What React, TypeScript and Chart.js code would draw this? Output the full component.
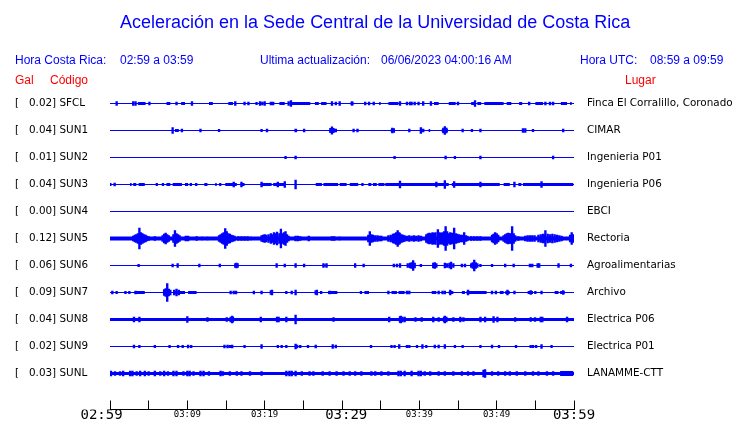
import React, { useEffect, useRef } from 'react';
import { Chart, registerables } from 'chart.js';

Chart.register(...registerables);

// ---------- data ----------
const STATIONS = ['SFCL', 'SUN1', 'SUN2', 'SUN3', 'SUN4', 'SUN5', 'SUN6', 'SUN7', 'SUN8', 'SUN9', 'SUNL'];
const PEAK_GAL = [0.02, 0.04, 0.01, 0.04, 0.0, 0.12, 0.06, 0.09, 0.04, 0.02, 0.03];
const PLACES = [
  'Finca El Corralillo, Coronado',
  'CIMAR',
  'Ingenieria P01',
  'Ingenieria P06',
  'EBCI',
  'Rectoria',
  'Agroalimentarias',
  'Archivo',
  'Electrica P06',
  'Electrica P01',
  'LANAMME-CTT',
];

// minutes after 02:59 (Costa Rica time)
const X_MIN = 0;
const X_MAX = 60;
const X_TICK_VALUES = [0, 5, 10, 15, 20, 25, 30, 35, 40, 45, 50, 55, 60];
const X_TICK_LABELS = ['02:59', '', '03:09', '', '03:19', '', '03:29', '', '03:39', '', '03:49', '', '03:59'];
const X_MAJOR = [0, 30, 60];

// amplitude units per trace spacing
const AMP_PER_ROW = 27;

// continuous activity stretches [start, end] (minutes)
const SFCL_BANDS = [[3.6, 4.6], [7.3, 7.8], [9.2, 9.7], [12.8, 13.3], [15.3, 15.9], [18.8, 19.1], [21.9, 22.6], [23.5, 25.9], [26.5, 27.0], [27.3, 28.0], [31.1, 31.5], [34.8, 35.0], [36.0, 37.3], [41.9, 42.5], [43.8, 44.7], [46.7, 47.1], [47.5, 48.0], [48.4, 50.9], [51.3, 51.9], [52.9, 53.3], [55.0, 56.0], [58.3, 59.1], [59.5, 59.7]];
const SUN1_BANDS = [[8.4, 8.9], [24.0, 24.2], [28.4, 29.1], [36.3, 36.8], [41.2, 41.4], [42.9, 43.7]];
const SUN2_BANDS = [[23.9, 24.1], [43.3, 43.5]];
const SUN3_BANDS = [[0, 0.2], [2.6, 2.8], [3.0, 3.4], [3.7, 4.5], [5.9, 6.2], [6.7, 7.0], [7.3, 7.8], [8.1, 9.3], [9.7, 10.1], [10.3, 10.6], [11.0, 11.3], [12.2, 12.6], [13.6, 13.8], [14.1, 14.4], [14.9, 16.4], [16.9, 17.4], [19.5, 20.9], [21.1, 22.6], [26.6, 27.4], [27.6, 29.5], [29.7, 30.6], [31.0, 32.1], [32.5, 32.8], [33.4, 33.8], [34.0, 34.5], [34.7, 35.5], [35.6, 43.8], [44.2, 50.4], [50.9, 51.7], [52.8, 53.2], [53.4, 59.9]];
const SUN4_BANDS: number[][] = [];
const SUN5_BANDS: number[][] = [];
const SUN6_BANDS = [[27.5, 28.1], [31.6, 31.8], [55.2, 55.6], [57.9, 58.1]];
const SUN7_BANDS = [[3.2, 4.5], [8.2, 9.7], [10.1, 11.2], [28.2, 29.4], [32.3, 32.6], [32.9, 33.5], [36.4, 37.1], [37.3, 38.1], [41.6, 42.2], [43.8, 44.4], [45.5, 45.9], [46.1, 48.7], [50.4, 50.9], [51.1, 51.7], [54.0, 54.7], [57.5, 58.0], [58.2, 58.8]];
const SUN8_BANDS: number[][] = [];
const SUN9_BANDS = [[10.0, 10.2], [19.5, 19.7], [26.5, 26.7], [43.2, 43.4], [49.3, 49.5]];
const SUNL_BANDS = [[58.2, 59.9]];

// spikes [minute, half amplitude]
const SFCL_SPIKES = [[0.86, 2], [3.0, 1.8], [3.3, 1.8], [5.1, 1.5], [8.6, 1.5], [10.6, 2], [16.2, 1.8], [17.4, 1.5], [17.9, 1.5], [19.4, 1.8], [19.7, 1.5], [20.0, 1.8], [20.8, 1.5], [21.1, 1.5], [23.1, 2], [23.4, 2.8], [28.7, 1.8], [29.2, 1.5], [29.7, 1.8], [31.3, 2], [33.0, 1.5], [33.5, 1.5], [34.1, 1.5], [37.5, 2], [38.4, 1.5], [38.8, 1.5], [39.0, 1.5], [39.4, 1.5], [39.9, 1.5], [40.5, 1.8], [41.5, 2], [45.0, 1.5], [47.2, 2.8], [54.2, 1.5], [56.3, 1.5], [56.9, 1.5], [57.3, 1.5]];
const SUN1_SPIKES = [[8.1, 2.8], [9.3, 1.5], [11.7, 1.5], [14.1, 1.2], [19.6, 1.2], [20.3, 1.5], [24.0, 1.5], [25.1, 1.5], [28.5, 2.2], [28.7, 3.7], [28.9, 2.2], [29.2, 1.5], [31.5, 1.5], [32.0, 1.5], [36.5, 2.5], [36.7, 2], [38.7, 1.5], [40.2, 2.8], [40.5, 1.5], [43.1, 2.5], [43.3, 4], [43.5, 2.5], [45.6, 1.5], [46.8, 1.2], [47.9, 1.5], [53.4, 1.8], [53.7, 1.8], [54.7, 1.2], [58.6, 1.5]];
const SUN2_SPIKES = [[22.7, 1.2], [24.0, 1.5], [36.8, 1.2], [43.4, 1.5], [44.6, 1.2], [47.9, 1.5], [57.3, 1.5]];
const SUN3_SPIKES = [[0.6, 1.5], [16.0, 2.5], [17.0, 2.5], [19.6, 2.5], [21.7, 2.5], [22.6, 3], [24.0, 4.5], [37.5, 3.5], [42.2, 2.5], [43.3, 4], [44.5, 3], [47.9, 2.5], [52.3, 2.5], [55.8, 3]];
const SUN4_SPIKES: number[][] = [];
const SUN5_SPIKES = [
  [3.0, 2.5], [3.2, 3.5], [3.4, 4], [3.6, 5], [3.8, 10.5], [4.0, 6], [4.2, 5], [4.4, 4], [4.6, 3.5], [4.8, 2.5], [5.0, 2], [5.8, 2],
  [6.8, 3], [7.0, 4.5], [7.2, 5.5], [7.4, 4], [7.6, 3],
  [8.2, 4], [8.4, 8], [8.6, 5], [8.8, 4], [9.0, 3], [9.8, 2.5], [10.1, 2.5], [11.2, 1.8], [11.9, 1.5], [12.6, 1.5],
  [14.1, 3], [14.3, 4], [14.5, 5], [14.7, 6], [14.9, 10], [15.1, 7], [15.3, 5], [15.5, 4.5], [15.7, 3.5], [15.9, 3], [16.1, 2.5],
  [16.6, 2], [17.0, 2], [17.4, 1.8], [17.8, 1.8], [18.2, 1.5],
  [19.6, 3], [19.8, 3.5], [20.0, 4], [20.2, 3.5], [20.5, 4], [20.8, 5], [21.0, 4], [21.2, 6], [21.4, 5], [21.6, 6.5], [21.9, 5], [22.1, 9.5], [22.3, 5], [22.5, 6], [22.7, 7], [22.9, 4], [23.1, 2.5],
  [24.0, 2.5], [24.3, 2.5], [24.6, 2], [25.7, 2.5], [28.7, 2], [29.0, 2], [29.7, 1.5],
  [33.4, 3.5], [33.6, 7], [33.8, 4], [34.0, 3.5], [34.3, 3], [34.6, 3], [34.9, 2.5], [35.1, 2.5],
  [36.0, 3], [36.3, 3.5], [36.6, 4.5], [36.8, 5], [37.0, 6], [37.2, 8], [37.4, 6], [37.5, 5], [37.7, 4], [37.9, 3.5], [38.1, 3],
  [38.4, 2.5], [38.7, 3], [39.0, 2.5], [39.3, 3], [39.6, 2.5], [39.9, 3], [40.2, 2.5],
  [40.9, 4], [41.1, 5], [41.3, 5.5], [41.5, 5], [41.7, 6], [41.9, 5.5], [42.1, 6], [42.4, 9], [42.6, 6], [42.8, 5.5], [43.0, 6], [43.2, 7], [43.4, 12], [43.6, 7], [43.8, 5], [44.0, 6], [44.2, 5.5], [44.4, 5], [44.5, 10.5], [44.7, 5], [44.9, 4.5], [45.1, 4], [45.3, 3.5], [45.5, 3.5], [45.8, 6], [46.0, 3], [46.2, 2.5],
  [46.7, 2], [47.1, 2], [47.5, 2], [47.9, 2],
  [49.4, 3.5], [49.6, 4.5], [49.8, 6], [50.0, 5], [50.2, 3.5],
  [50.9, 3], [51.1, 4], [51.3, 5], [51.5, 5.5], [51.7, 5], [51.9, 5], [52.0, 12], [52.2, 5], [52.4, 3], [52.8, 2],
  [53.7, 2.5], [54.0, 3], [54.3, 3], [54.6, 3], [54.9, 3],
  [55.4, 3.5], [55.7, 4], [56.0, 4.5], [56.2, 4], [56.3, 8], [56.6, 4.5], [56.9, 4], [57.2, 4.5], [57.5, 4], [57.8, 3.5], [58.1, 3], [58.4, 2.5],
  [59.5, 3.5], [59.7, 6], [59.9, 4],
];
const SUN6_SPIKES = [[3.7, 1.2], [8.1, 1.5], [8.75, 2], [11.55, 1.5], [14.2, 1.5], [16.2, 2], [16.35, 2.5], [16.5, 2], [21.55, 1.8], [22.6, 1.5], [24.0, 2], [25.1, 1.5], [27.6, 1.8], [28.0, 1.8], [31.7, 2], [32.8, 1.5], [36.7, 1.5], [37.1, 1.5], [37.5, 1.8], [38.5, 1.8], [38.8, 2.5], [39.0, 3], [39.2, 5], [39.4, 2.5], [40.2, 1.2], [41.8, 2.5], [42.0, 3], [42.2, 2], [43.3, 2.5], [43.6, 2], [43.9, 2.5], [44.1, 3.5], [44.4, 2], [45.5, 1.5], [45.9, 1.5], [46.7, 2], [46.9, 3], [47.1, 5.5], [47.3, 3], [47.5, 2], [47.9, 1.2], [49.4, 1.2], [51.1, 1.5], [52.2, 1.5], [54.3, 1.5], [54.6, 1.5], [55.3, 2], [55.5, 2], [58.0, 2], [59.6, 1.5]];
const SUN7_SPIKES = [[0.3, 1.5], [0.86, 1.2], [2.0, 1.2], [2.5, 1.2], [3.3, 1.5], [7.0, 3], [7.2, 4], [7.4, 9], [7.6, 3.5], [7.8, 2.5], [8.3, 2.5], [8.6, 3.5], [8.9, 2.5], [15.6, 1.5], [16.0, 1.5], [16.3, 1.5], [18.6, 1.5], [19.6, 1.5], [20.8, 2], [20.95, 2.5], [22.8, 1.2], [23.5, 1.5], [24.0, 2.5], [26.6, 2], [26.75, 2.5], [27.3, 1.2], [28.4, 1.5], [36.0, 1.5], [38.4, 1.5], [38.7, 1.5], [42.5, 1.5], [43.0, 1.5], [43.3, 1.5], [44.0, 2.5], [46.3, 2.5], [49.4, 1.5], [49.9, 1.5], [51.4, 2.5], [52.3, 1.5], [54.4, 2], [55.0, 1.2], [55.8, 1.5], [58.6, 2]];
const SUN8_SPIKES = [[3.1, 2.5], [3.8, 2.5], [10.0, 3], [12.6, 1.8], [15.1, 2], [15.6, 2.5], [15.8, 3.5], [15.9, 2.5], [19.5, 2.5], [21.6, 2.5], [21.8, 2.5], [22.8, 2.5], [24.0, 4.5], [28.9, 2], [36.1, 2.5], [37.5, 2.8], [37.6, 3.5], [37.8, 2.5], [38.1, 2.5], [39.5, 2], [40.3, 1.8], [41.8, 2.5], [42.5, 2], [43.2, 2.5], [43.3, 3.5], [43.5, 2.5], [44.4, 2], [45.3, 2.5], [45.7, 2], [47.9, 2.5], [48.5, 2.5], [49.6, 3], [50.1, 2.5], [52.4, 1.8], [54.4, 1.8], [54.96, 1.8], [55.7, 2.5], [55.9, 2.5], [59.1, 2.5]];
const SUN9_SPIKES = [[3.1, 1.5], [3.8, 1.2], [5.8, 1.2], [7.7, 1.2], [8.8, 1.2], [9.4, 1.2], [10.1, 1.5], [10.5, 1.2], [14.8, 1.5], [15.2, 1.5], [15.5, 1.2], [15.8, 1.5], [17.4, 1.2], [19.6, 1.8], [21.7, 1.2], [22.2, 1.2], [22.8, 1.2], [24.0, 2.5], [24.2, 1.5], [24.6, 1.2], [25.6, 1.2], [26.6, 1.5], [28.8, 1.8], [29.2, 1.5], [33.75, 1.2], [36.4, 1.2], [36.8, 1.2], [37.4, 1.8], [38.4, 1.2], [38.7, 1.2], [39.7, 1.2], [40.4, 1.8], [40.9, 1.2], [42.0, 1.5], [42.5, 1.5], [43.3, 2], [44.6, 1.2], [45.6, 1.2], [47.9, 1.2], [49.4, 1.5], [50.3, 1.2], [52.5, 1.2], [54.4, 1.2], [54.7, 1.2], [55.1, 1.2], [55.8, 1.8], [57.1, 1.2]];
const SUNL_SPIKES = [[0.13, 2.5], [0.65, 2], [1.3, 2], [1.7, 2.5], [2.6, 2.5], [2.9, 2.5], [3.45, 2], [3.9, 2.5], [4.5, 2.5], [5.0, 2], [5.8, 2.5], [6.5, 2], [7.0, 2.5], [7.5, 2], [8.2, 2.5], [8.6, 2.5], [9.5, 2], [10.0, 2.5], [10.3, 2.5], [10.8, 2], [11.7, 2.5], [12.1, 2.5], [12.8, 2], [14.3, 2.5], [14.6, 2], [15.5, 2], [16.4, 2], [17.0, 2], [18.1, 2], [19.6, 2], [22.8, 2.5], [23.2, 2.5], [23.5, 2.5], [24.0, 2.5], [24.8, 2], [25.8, 2], [26.3, 2], [27.5, 2], [28.4, 2], [29.3, 2], [30.2, 2], [31.0, 2], [31.7, 2], [32.5, 2], [33.8, 2], [34.3, 2], [35.1, 2], [36.0, 2], [37.3, 2.5], [37.6, 2.5], [38.1, 2.5], [39.0, 2.5], [39.9, 2.5], [40.2, 2.5], [40.7, 2], [41.4, 2], [42.5, 2], [43.3, 2], [44.4, 2], [45.5, 2], [46.3, 2], [47.0, 2], [48.3, 3.5], [48.5, 4], [49.4, 2], [50.2, 2], [51.1, 2], [51.7, 2], [52.6, 2], [53.7, 2], [54.7, 2], [55.4, 2], [56.5, 2], [57.3, 2]];

const BANDS = [SFCL_BANDS, SUN1_BANDS, SUN2_BANDS, SUN3_BANDS, SUN4_BANDS, SUN5_BANDS, SUN6_BANDS, SUN7_BANDS, SUN8_BANDS, SUN9_BANDS, SUNL_BANDS];
const SPIKES = [SFCL_SPIKES, SUN1_SPIKES, SUN2_SPIKES, SUN3_SPIKES, SUN4_SPIKES, SUN5_SPIKES, SUN6_SPIKES, SUN7_SPIKES, SUN8_SPIKES, SUN9_SPIKES, SUNL_SPIKES];

// ---------- style ----------
const TRACE = '#0000ff';
const BASE_WIDTHS = [1, 1, 1, 1, 1, 4, 1, 1, 3, 1, 3];
const BAND_WIDTHS = [3, 3, 2, 3, 1, 1, 2, 3, 1, 2, 5];
const BIG_TICK_FONT = { family: 'DejaVu Sans Mono', size: 14, lineHeight: 1.2 };
const SMALL_TICK_FONT = { family: 'DejaVu Sans Mono', size: 9, lineHeight: 1.75 };
const LABEL_FONT = { family: 'DejaVu Sans', size: 10.4 };

const LEFT_LABELS = STATIONS.map((s, i) => `[   ${PEAK_GAL[i].toFixed(2)}] ${s}`);

export default function App() {
  const ref = useRef<HTMLCanvasElement>(null);

  useEffect(() => {
    const canvas = ref.current;
    if (!canvas) return;
    const datasets: any[] = [];
    STATIONS.forEach((_, i) => {
      datasets.push({
        type: 'line',
        data: [{ x: X_MIN, y: i }, { x: X_MAX, y: i }],
        borderColor: TRACE,
        borderWidth: BASE_WIDTHS[i],
        borderCapStyle: 'butt',
        pointRadius: 0,
        tension: 0,
      });
      if (BANDS[i].length) {
        datasets.push({
          type: 'line',
          data: BANDS[i].flatMap(([a, b]) => [{ x: a, y: i }, { x: b, y: i }, { x: b, y: null }]),
          borderColor: TRACE,
          borderWidth: BAND_WIDTHS[i],
          borderCapStyle: 'butt',
          pointRadius: 0,
          spanGaps: false,
          tension: 0,
        });
      }
    });
    datasets.push({
      type: 'bar',
      data: SPIKES.flatMap((list, i) =>
        list.map(([t, a]) => ({ x: t, y: [i - a / AMP_PER_ROW, i + a / AMP_PER_ROW] }))
      ),
      backgroundColor: TRACE,
      borderWidth: 0,
      barThickness: 1.7,
      grouped: false,
    });

    const rowTicks = (s: any) => {
      s.ticks = STATIONS.map((_, i) => ({ value: i }));
    };

    const chart = new Chart(canvas, {
      type: 'line',
      data: { datasets },
      options: {
        animation: false,
        responsive: false,
        events: [],
        layout: { padding: { left: 15, top: 90, right: 0, bottom: 0 } },
        plugins: {
          legend: { display: false },
          tooltip: { enabled: false },
          title: { display: false },
        },
        scales: {
          x: {
            type: 'linear',
            position: 'bottom',
            min: X_MIN,
            max: X_MAX,
            offset: false,
            afterBuildTicks: (s: any) => {
              s.ticks = X_TICK_VALUES.map((v) => ({ value: v }));
            },
            afterFit: (s: any) => {
              s.height = 13.5;
            },
            grid: {
              display: true,
              drawOnChartArea: false,
              drawTicks: true,
              tickLength: -9,
              color: '#000',
              lineWidth: 1,
              offset: false,
            },
            border: { display: true, color: '#000', width: 1 },
            ticks: {
              autoSkip: false,
              maxRotation: 0,
              minRotation: 0,
              padding: 6,
              color: '#000',
              font: (ctx: any) =>
                ctx.tick && X_MAJOR.includes(ctx.tick.value) ? BIG_TICK_FONT : SMALL_TICK_FONT,
              callback: (v: any) => {
                const k = X_TICK_VALUES.indexOf(Number(v));
                const label = k >= 0 ? X_TICK_LABELS[k] : '';
                if (Number(v) === X_MIN) return label + '  ';
                if (Number(v) === 30) return ' ' + label;
                return label;
              },
            },
          },
          y: {
            type: 'linear',
            position: 'left',
            reverse: true,
            min: -0.5,
            max: 34 / 3,
            afterBuildTicks: rowTicks,
            afterFit: (s: any) => {
              s.width = 95;
            },
            grid: { display: false, drawTicks: false },
            border: { display: false },
            ticks: {
              crossAlign: 'far',
              padding: 0,
              color: '#000',
              font: LABEL_FONT,
              callback: (v: any) => LEFT_LABELS[Number(v)] ?? '',
            },
          },
          y2: {
            type: 'linear',
            position: 'right',
            reverse: true,
            min: -0.5,
            max: 34 / 3,
            afterBuildTicks: rowTicks,
            afterFit: (s: any) => {
              s.width = 166;
            },
            grid: {
              display: true,
              drawOnChartArea: false,
              drawTicks: true,
              tickLength: 13,
              color: 'rgba(0,0,0,0)',
            },
            border: { display: false },
            ticks: {
              crossAlign: 'near',
              padding: 0,
              color: '#000',
              font: LABEL_FONT,
              callback: (v: any) => PLACES[Number(v)] ?? '',
            },
          },
        },
      } as any,
    });
    return () => chart.destroy();
  }, []);

  const base: React.CSSProperties = {
    position: 'absolute',
    fontFamily: '"Liberation Sans", Arial, sans-serif',
    fontSize: 12,
    lineHeight: '12px',
    whiteSpace: 'pre',
    color: '#0000ff',
  };

  return (
    <div style={{ position: 'fixed', left: 0, top: 0, width: 740, height: 423, background: '#fff' }}>
      <canvas ref={ref} width={740} height={423} style={{ position: 'absolute', left: 0, top: 0 }} />
      <div style={{ ...base, left: 120, top: 13, fontSize: 18, lineHeight: '18px' }}>
        Aceleración en la Sede Central de la Universidad de Costa Rica
      </div>
      <div style={{ ...base, left: 15, top: 54 }}>Hora Costa Rica:</div>
      <div style={{ ...base, left: 120, top: 54 }}>02:59 a 03:59</div>
      <div style={{ ...base, left: 260, top: 54 }}>Ultima actualización:</div>
      <div style={{ ...base, left: 381, top: 54 }}>06/06/2023 04:00:16 AM</div>
      <div style={{ ...base, left: 580, top: 54 }}>Hora UTC:</div>
      <div style={{ ...base, left: 650, top: 54 }}>08:59 a 09:59</div>
      <div style={{ ...base, left: 15, top: 74, color: '#ff0000' }}>Gal</div>
      <div style={{ ...base, left: 50, top: 74, color: '#ff0000' }}>Código</div>
      <div style={{ ...base, left: 625, top: 74, color: '#ff0000' }}>Lugar</div>
    </div>
  );
}
